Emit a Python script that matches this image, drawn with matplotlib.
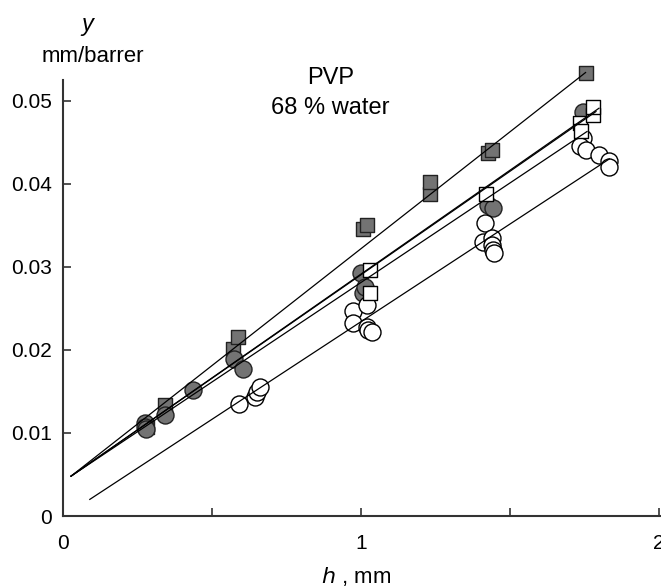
import matplotlib
matplotlib.use("Agg")
import matplotlib.pyplot as plt

plt.rcParams['font.family'] = ['Liberation Sans', 'DejaVu Sans']

# filled squares
fsq_x = [0.282, 0.343, 0.571, 0.588, 1.008, 1.022, 1.234, 1.234, 1.429, 1.442, 1.755]
fsq_y = [0.0107, 0.0134, 0.0201, 0.0216, 0.0345, 0.0351, 0.0388, 0.0402, 0.0437, 0.0441, 0.0534]

# filled circles
fci_x = [0.276, 0.276, 0.280, 0.343, 0.437, 0.575, 0.605, 1.000, 1.008, 1.015, 1.429, 1.445, 1.748]
fci_y = [0.0112, 0.0107, 0.0105, 0.0122, 0.0152, 0.0189, 0.0177, 0.0293, 0.0268, 0.0276, 0.0375, 0.0371, 0.0486]

# open squares
osq_x = [1.032, 1.032, 1.422, 1.738, 1.741, 1.781, 1.781]
osq_y = [0.0296, 0.0269, 0.0388, 0.0473, 0.0463, 0.0483, 0.0493]

# open circles
oci_x = [0.592, 0.645, 0.652, 0.662, 0.975, 1.020, 0.975, 1.020, 1.025, 1.038,
         1.418, 1.412, 1.442, 1.442, 1.445, 1.449, 1.745, 1.738, 1.755, 1.800, 1.835, 1.835]
oci_y = [0.0135, 0.0143, 0.0149, 0.0155, 0.0247, 0.0254, 0.0232, 0.0228, 0.0224, 0.0222,
         0.0353, 0.0330, 0.0335, 0.0326, 0.0320, 0.0317, 0.0455, 0.0445, 0.0441, 0.0435, 0.0427, 0.0420]

# fitted lines (x-range, y-range)
fit_lines = [
    ([0.027, 1.755], [0.0048, 0.0534]),
    ([0.027, 1.790], [0.0048, 0.0487]),
    ([0.027, 1.800], [0.0048, 0.0491]),
    ([0.027, 1.760], [0.0048, 0.0463]),
    ([0.090, 1.835], [0.0020, 0.0430]),
]

fig = plt.figure(figsize=(6.61, 5.88), dpi=100)
ax = fig.add_axes([63 / 661, 1 - 516 / 588, 597 / 661, 436 / 588])

for lx, ly in fit_lines:
    ax.plot(lx, ly, color='black', lw=0.9, zorder=3, clip_on=False)

grey = '#737373'
ax.scatter(fsq_x, fsq_y, marker='s', s=110, facecolor=grey, edgecolor='#222222', lw=1.0, zorder=2, clip_on=False)
ax.scatter(fci_x, fci_y, marker='o', s=150, facecolor=grey, edgecolor='#222222', lw=1.0, zorder=2, clip_on=False)
ax.scatter(oci_x, oci_y, marker='o', s=150, facecolor='white', edgecolor='black', lw=1.0, zorder=2, clip_on=False)
ax.scatter(osq_x, osq_y, marker='s', s=110, facecolor='white', edgecolor='black', lw=1.0, zorder=2, clip_on=False)

ax.set_xlim(0, 2.005)
ax.set_ylim(0, 0.0525)
ax.set_xticks([0, 1, 2])
ax.set_xticklabels(['0', '1', '2'])
ax.set_xticks([0.5, 1.5], minor=True)
ax.set_yticks([0, 0.01, 0.02, 0.03, 0.04, 0.05])
ax.set_yticklabels(['0', '0.01', '0.02', '0.03', '0.04', '0.05'])

for s in ['top', 'right']:
    ax.spines[s].set_visible(False)
for s in ['left', 'bottom']:
    ax.spines[s].set_color('#333333')
    ax.spines[s].set_linewidth(1.5)

ax.tick_params(axis='both', which='both', direction='in', length=6, width=1.2,
               color='#333333', labelsize=15)
ax.tick_params(axis='x', pad=13)
ax.tick_params(axis='y', pad=8)

fig.text(331 / 661, 1 - 78 / 588, 'PVP', fontsize=17, ha='center', va='center')
fig.text(330 / 661, 1 - 108 / 588, '68 % water', fontsize=17, ha='center', va='center')

fig.text(87 / 661, 1 - 24 / 588, 'y', fontsize=17, style='italic', ha='center', va='center')
fig.text(93 / 661, 1 - 57 / 588, 'mm/barrer', fontsize=16, ha='center', va='center')
fig.text(356 / 661, 1 - 577 / 588, r'$\it{h}$ , mm', fontsize=16, ha='center', va='center')

fig.savefig('out.png', dpi=100)
